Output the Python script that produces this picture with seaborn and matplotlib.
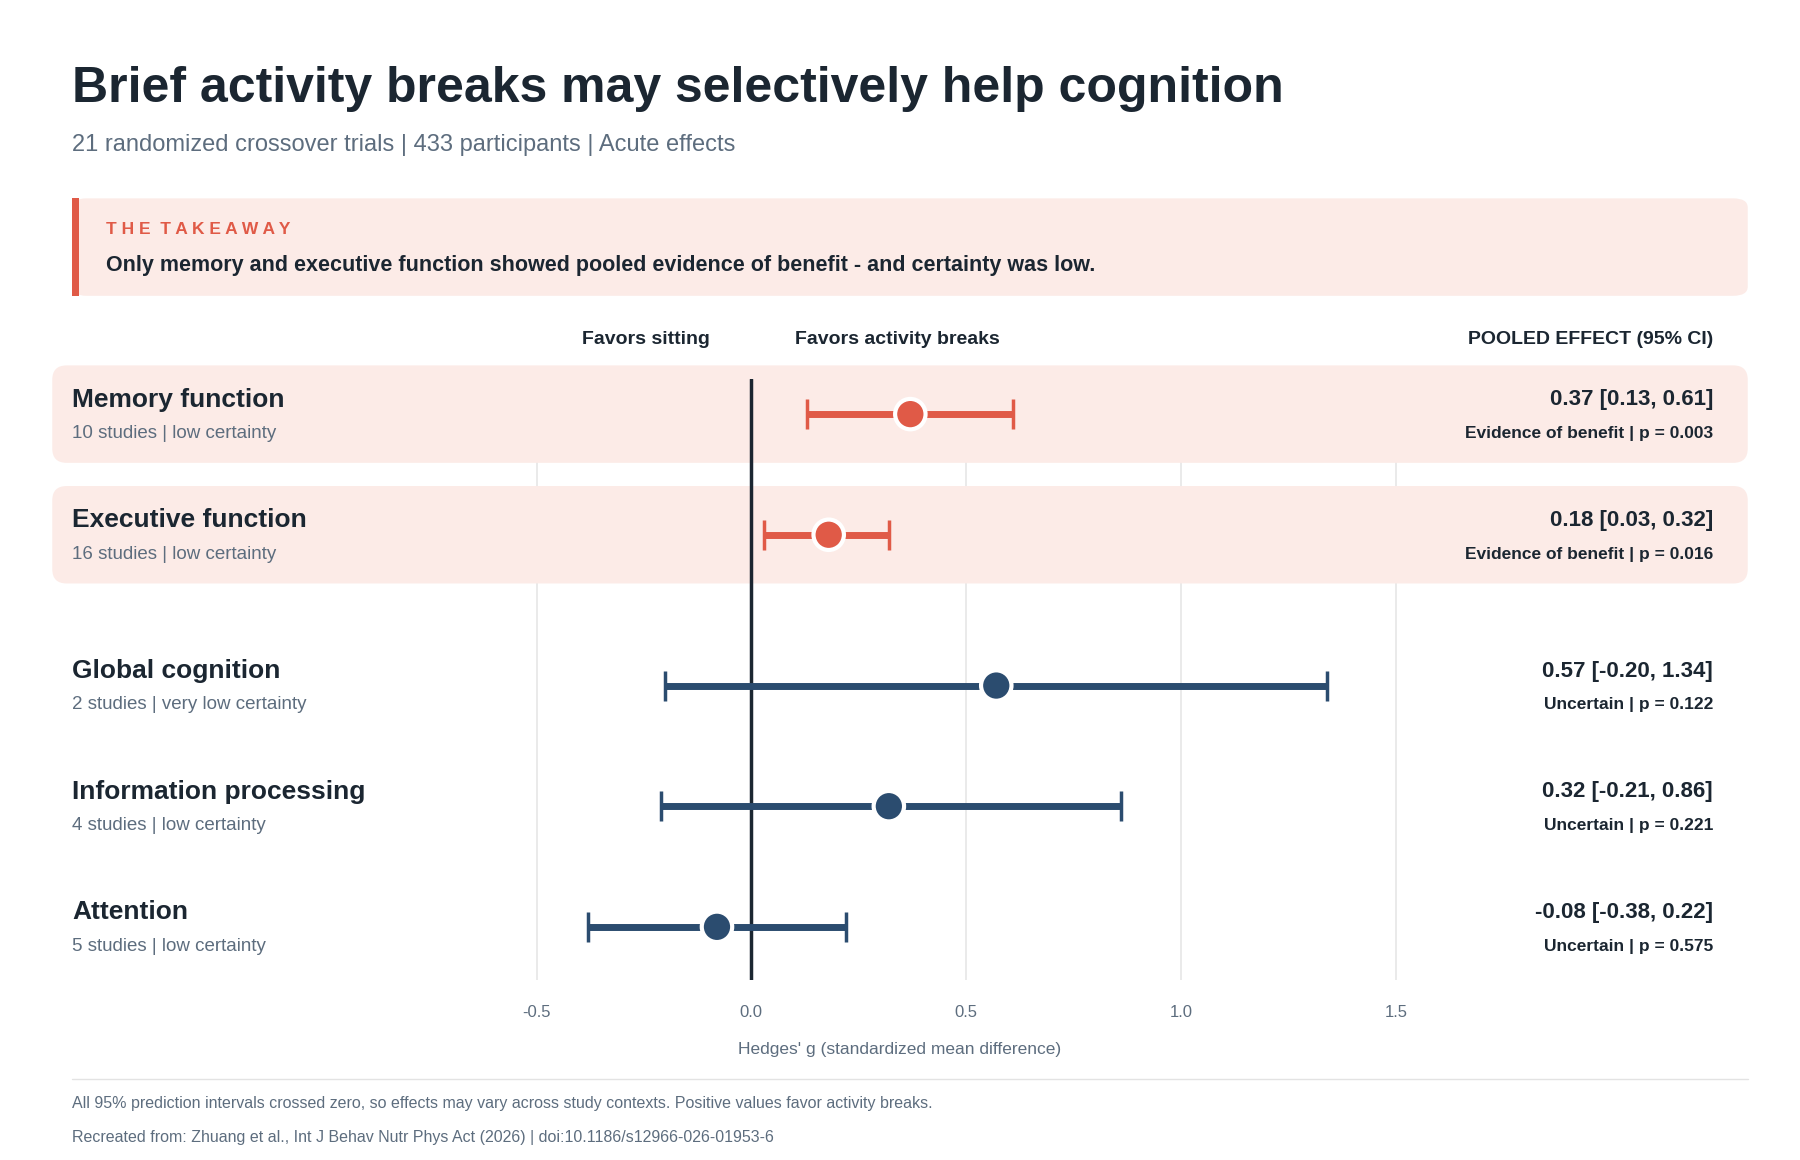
import numpy as np
import matplotlib.pyplot as plt
import seaborn as sns
import pandas as pd
from matplotlib.patches import FancyBboxPatch, Rectangle
from matplotlib.transforms import blended_transform_factory

outcomes = ["Memory function", "Executive function", "Global cognition",
            "Information processing", "Attention"]
details = ["10 studies | low certainty", "16 studies | low certainty",
           "2 studies | very low certainty", "4 studies | low certainty",
           "5 studies | low certainty"]
effect = [0.37, 0.18, 0.57, 0.32, -0.08]
ci_low = [0.13, 0.03, -0.20, -0.21, -0.38]
ci_high = [0.61, 0.32, 1.34, 0.86, 0.22]
verdict = ["Evidence of benefit | p = 0.003", "Evidence of benefit | p = 0.016",
           "Uncertain | p = 0.122", "Uncertain | p = 0.221", "Uncertain | p = 0.575"]
significant = [True, True, False, False, False]
row_pos = [0, 1, 2.25, 3.25, 4.25]
xticks = [-0.5, 0.0, 0.5, 1.0, 1.5]

RED = "#E05A47"
NAVY = "#2B4C6F"
DARK = "#1B2631"
GREY = "#5D6D7E"
BAND = "#FCEBE7"

sns.set_theme(style="white")
plt.rcParams['font.family'] = ['Liberation Sans', 'DejaVu Sans']

df = pd.DataFrame({"outcome": outcomes, "g": effect, "lo": ci_low, "hi": ci_high,
                   "y": row_pos, "sig": significant})

fig = plt.figure(figsize=(18, 11.6), dpi=100)
ax = fig.add_axes([45 / 1550, 1 - 845 / 1000, 1460 / 1550, 518 / 1000])
ax.set_facecolor("none")
ax.set_xlim(-602 / 370, 858 / 370)
ax.set_ylim((845 - 357) / 104, (327 - 357) / 104)

# grid
for t in xticks:
    if t != 0:
        ax.axvline(t, color="#E6E6E6", lw=1.2, zorder=0)

# highlighted bands
for i, s in enumerate(significant):
    if s:
        yc = row_pos[i]
        ax_y = ax.transLimits.transform((0, yc))[1]
        band = FancyBboxPatch((0, ax_y - 42 / 518), 1, 84 / 518,
                              boxstyle="round,pad=0,rounding_size=0.0085",
                              mutation_aspect=1460 / 518 * 1000 / 1550 * 1550 / 1000,
                              transform=ax.transAxes, facecolor=BAND,
                              edgecolor="none", zorder=1, clip_on=False)
        ax.add_patch(band)

ax.axvline(0, color=DARK, lw=2.5, zorder=3)

for _, r in df.iterrows():
    c = RED if r["sig"] else NAVY
    ax.errorbar(r["g"], r["y"], xerr=[[r["g"] - r["lo"]], [r["hi"] - r["g"]]],
                fmt="none", ecolor=c, elinewidth=5, capsize=11, capthick=2.5, zorder=4)
sns.scatterplot(data=df, x="g", y="y", hue="sig", palette={True: RED, False: NAVY},
                s=480, edgecolor="white", linewidth=3, zorder=5, legend=False, ax=ax)

trans = blended_transform_factory(ax.transAxes, ax.transData)
xl = (62 - 45) / 1460
xr = (1475 - 45) / 1460
for i in range(len(outcomes)):
    y = row_pos[i]
    ax.text(xl, y - 0.12, outcomes[i], transform=trans, fontsize=19, weight="bold",
            color=DARK, va="center")
    ax.text(xl, y + 0.16, details[i], transform=trans, fontsize=13.5, color=GREY, va="center")
    ax.text(xr, y - 0.12, f"{effect[i]:.2f} [{ci_low[i]:.2f}, {ci_high[i]:.2f}]",
            transform=trans, fontsize=16, weight="bold", color=DARK, va="center", ha="right")
    ax.text(xr, y + 0.16, verdict[i], transform=trans, fontsize=12.5, weight="bold",
            color=DARK, va="center", ha="right")

hy = (845 - 293) / 518
ax.text((556 - 45) / 1460, hy, "Favors sitting", transform=ax.transAxes, fontsize=14,
        weight="bold", color=DARK, ha="center", va="center")
ax.text((773 - 45) / 1460, hy, "Favors activity breaks", transform=ax.transAxes, fontsize=14,
        weight="bold", color=DARK, ha="center", va="center")
ax.text(xr, hy, "POOLED EFFECT (95% CI)", transform=ax.transAxes, fontsize=14,
        weight="bold", color=DARK, ha="right", va="center")

ax.set_xticks(xticks)
ax.set_xticklabels([f"{t:.1f}" for t in xticks])
ax.tick_params(axis="x", length=0, labelsize=12, labelcolor=GREY, pad=18)
ax.set_yticks([])
ax.set_xlabel("Hedges' g (standardized mean difference)", fontsize=12.5, color=GREY, labelpad=16)
ax.set_ylabel("")
for sp in ax.spines.values():
    sp.set_visible(False)

# header
fig.text(62 / 1550, 1 - 77 / 1000, "Brief activity breaks may selectively help cognition",
         fontsize=36, weight="bold", color=DARK, va="center")
fig.text(62 / 1550, 1 - 125 / 1000, "21 randomized crossover trials | 433 participants | Acute effects",
         fontsize=17, color=GREY, va="center")

# takeaway box
fig.patches.append(FancyBboxPatch((62 / 1550, 1 - 255 / 1000), 1443 / 1550, 84 / 1000,
                                  boxstyle="round,pad=0,rounding_size=0.008",
                                  mutation_aspect=1800 / 1160 * 1160 / 1800 * 1.0,
                                  transform=fig.transFigure, facecolor=BAND,
                                  edgecolor="none", zorder=0))
fig.patches.append(Rectangle((62 / 1550, 1 - 255 / 1000), 6 / 1550, 84 / 1000,
                             transform=fig.transFigure, facecolor=RED, edgecolor="none", zorder=1))
fig.text(91 / 1550, 1 - 198 / 1000, "T H E   T A K E A W A Y".replace("   ", "  "),
         fontsize=12.5, weight="bold", color=RED, va="center")
fig.text(91 / 1550, 1 - 229 / 1000,
         "Only memory and executive function showed pooled evidence of benefit - and certainty was low.",
         fontsize=15.5, weight="bold", color=DARK, va="center")

# footer
fig.add_artist(plt.Line2D([62 / 1550, 1505 / 1550], [1 - 930 / 1000] * 2,
                          transform=fig.transFigure, color="#E3E3E3", lw=1))
fig.text(62 / 1550, 1 - 951 / 1000,
         "All 95% prediction intervals crossed zero, so effects may vary across study contexts. Positive values favor activity breaks.",
         fontsize=11.5, color=GREY, va="center")
fig.text(62 / 1550, 1 - 981 / 1000,
         "Recreated from: Zhuang et al., Int J Behav Nutr Phys Act (2026) | doi:10.1186/s12966-026-01953-6",
         fontsize=11.5, color=GREY, va="center")

fig.savefig("out.png", dpi=100, facecolor="white")
